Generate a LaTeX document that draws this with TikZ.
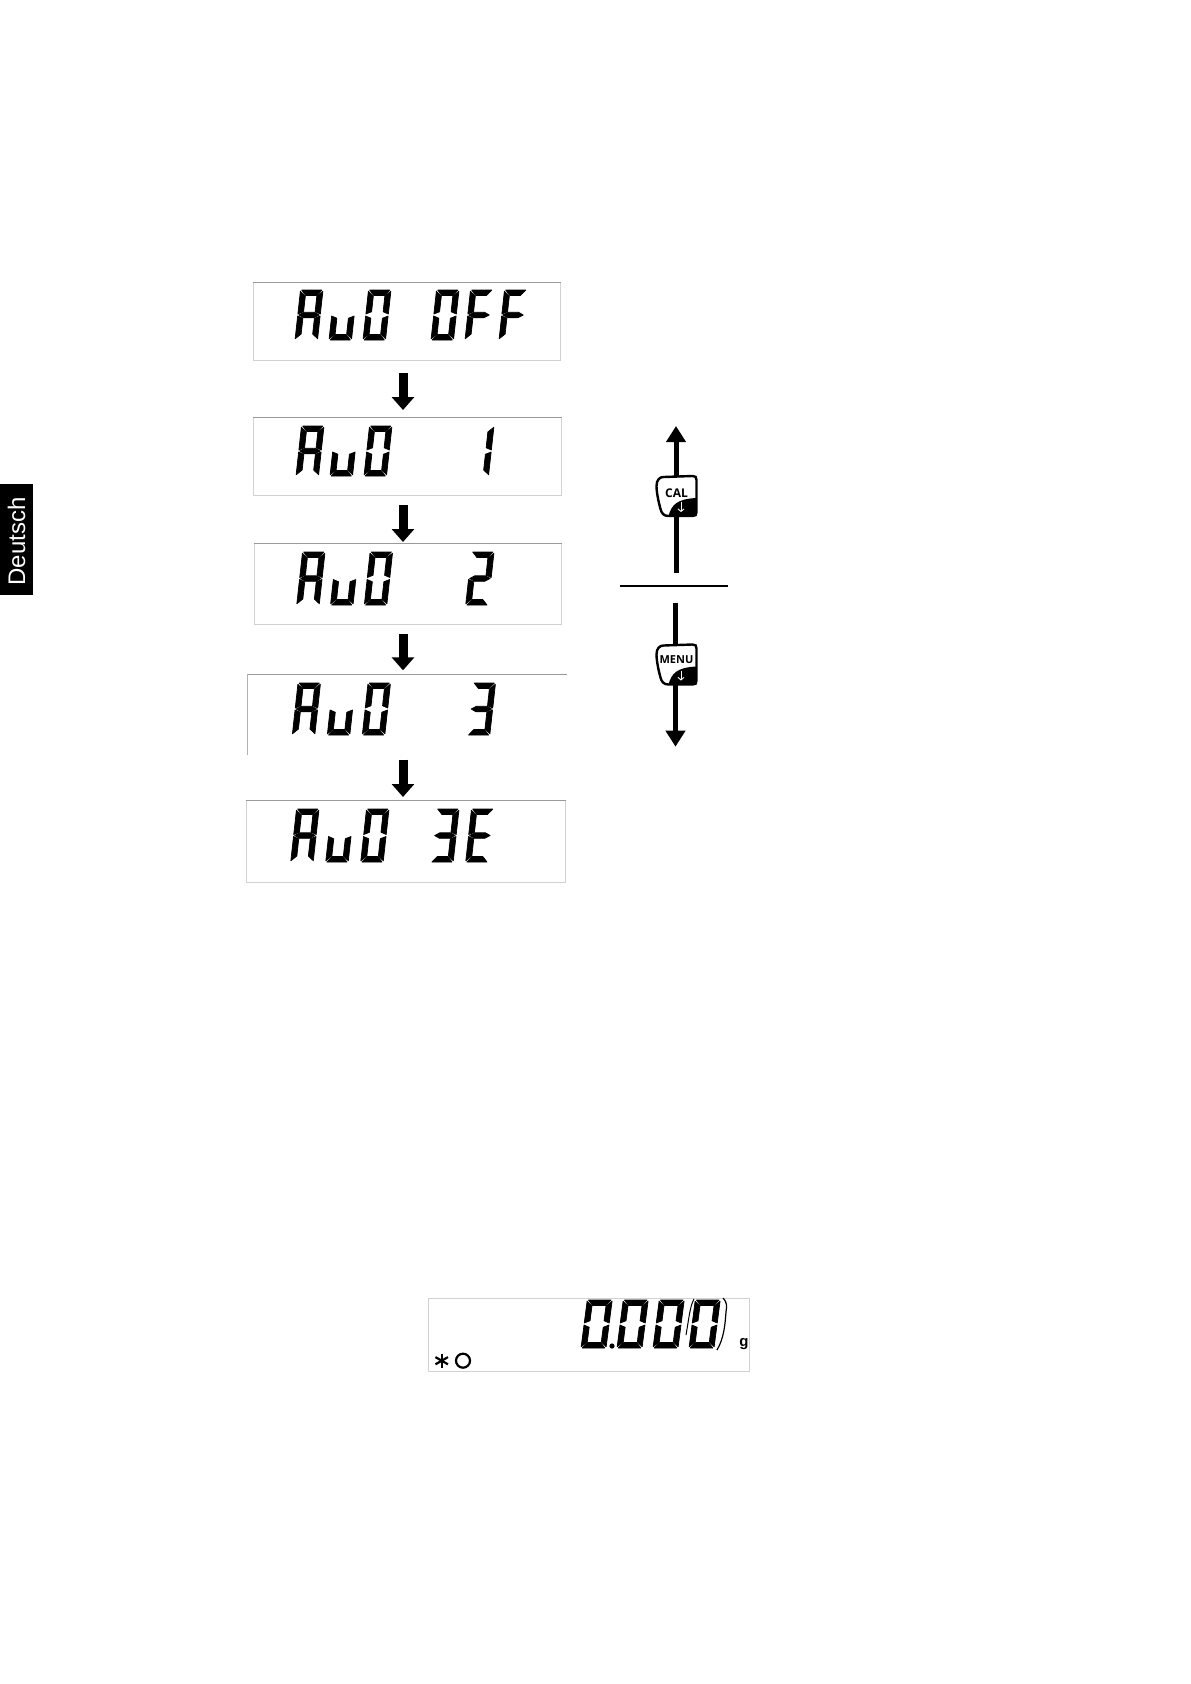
\documentclass[tikz,border=0pt]{standalone}
\usepackage{fontspec}
\setmainfont{Liberation Sans}
\setsansfont{Open Sans}
\usetikzlibrary{arrows.meta}
\usetikzlibrary{calc}

% segments of one lcd digit, origin at its lower left corner
\newcommand{\sega}{(1.2,-\digH) -- ({\digW-1.2},-\digH) -- ({\digW-\digT-.5},{-\digH+\digT}) -- ({\digT+.5},{-\digH+\digT}) -- cycle}
\newcommand{\segb}{(\digW,{-\digH+1.2}) -- (\digW,{-\digH/2-1}) -- ({\digW-\digT},{-\digH/2-\digT/2-.5}) -- ({\digW-\digT},{-\digH+\digT+.5}) -- cycle}
\newcommand{\segc}{(\digW,{-\digH/2+1}) -- (\digW,-1.2) -- ({\digW-\digT},{-\digT-.5}) -- ({\digW-\digT},{-\digH/2+\digT/2+.5}) -- cycle}
\newcommand{\segd}{(1.2,0) -- ({\digW-1.2},0) -- ({\digW-\digT-.5},-\digT) -- ({\digT+.5},-\digT) -- cycle}
\newcommand{\sege}{(0,{-\digH/2+1}) -- (0,-1.2) -- (\digT,{-\digT-.5}) -- (\digT,{-\digH/2+\digT/2+.5}) -- cycle}
\newcommand{\segf}{(0,{-\digH+1.2}) -- (0,{-\digH/2-1}) -- (\digT,{-\digH/2-\digT/2-.5}) -- (\digT,{-\digH+\digT+.5}) -- cycle}
\newcommand{\segg}{(1,{-\digH/2}) -- ({\digT+.5},{-\digH/2-\digT/2}) -- ({\digW-\digT-.5},{-\digH/2-\digT/2}) -- ({\digW-1},{-\digH/2}) -- ({\digW-\digT-.5},{-\digH/2+\digT/2}) -- ({\digT+.5},{-\digH/2+\digT/2}) -- cycle}

\newcommand{\lcdA}{a,b,c,e,f,g}
\newcommand{\lcdu}{c,d,e}
\newcommand{\lcdO}{a,b,c,d,e,f}
\newcommand{\lcdF}{a,e,f,g}
\newcommand{\lcdE}{a,d,e,f,g}
\newcommand{\lcdI}{b,c}
\newcommand{\lcdII}{a,b,d,e,g}
\newcommand{\lcdIII}{a,b,c,d,g}

% x, baseline, advance, height, slot/character list
\newcommand{\lcdline}[5]{
  \def\digH{#4}
  \foreach \slot/\chr in {#5} {
    \begin{scope}[shift={({#1+\slot*#3},#2)},xslant=\digS]
      \edef\seglist{\csname lcd\chr\endcsname}
      \foreach \s in \seglist {
        \fill[draw=black,line width=.7pt,line join=round] \csname seg\s\endcsname;
      }
    \end{scope}
  }
}

% name, x, y, label, label shift, label font size
\newcommand{\keycap}[6]{
  \node[keybox] (#1) at (#2,#3) {};
  \begin{scope}[shift={(#2,#3)}]
    \draw[black,line width=2.4pt,fill=white] (-13,-19) -- (16,-20)
      .. controls (19,-20) and (20,-19) .. (20,-16) -- (20,16)
      .. controls (20,19) and (19,20) .. (16,20) -- (-8,20)
      .. controls (-13,20) and (-15,17) .. (-16,13)
      .. controls (-18,6) and (-20,-4) .. (-20,-10)
      .. controls (-20,-16) and (-17,-19) .. (-13,-19) -- cycle;
    \fill[black] (-8,20) .. controls (-5,9) and (0,3) .. (20,2)
      -- (20,16) .. controls (20,19) and (19,20) .. (16,20) -- cycle;
    \draw[white,line width=.9pt,-{Straight Barb[length=2.5pt,width=6pt]}] (4.5,6) -- (4.5,16);
    \node[keylabel,font=\sffamily\bfseries\fontsize{#6}{#6}\selectfont] (#1 label) at (0,#5) {#4};
  \end{scope}
}

\tikzset{
  lcdbox/.style={rectangle,inner sep=0pt,draw=gray!35,line width=1pt},
  lcdtop/.style={draw=gray!80,line width=1pt},
  keybox/.style={rectangle,inner sep=0pt,minimum size=40pt},
  keylabel/.style={inner sep=0pt,text=black},
  flowarrow/.style={line width=9pt,-{Triangle[width=22pt,length=13pt]}},
  keyline/.style={line width=5pt},
  keyarrow/.style={keyline,-{Triangle[width=19pt,length=16pt]}},
}

\begin{document}
\begin{tikzpicture}[x=1pt,y=-1pt]
  \useasboundingbox (0,0) rectangle (1191,1684);
  \def\digW{22.5}
  \def\digT{5.5}
  \def\digS{0.11}

  \node[fill=black,text=white,rotate=90,inner sep=0pt,minimum width=111pt,minimum height=33pt,
    font=\fontsize{24}{24}\selectfont] (tabDeutsch) at (16.5,539.5) {\raisebox{-1pt}{Deutsch}\hspace*{4pt}};

  \node[lcdbox,minimum width=307pt,minimum height=78pt] (stepOff) at (406.5,321.5) {};
  \node[lcdbox,minimum width=308pt,minimum height=78pt] (stepOne) at (407.5,456.5) {};
  \node[lcdbox,minimum width=307pt,minimum height=81pt] (stepTwo) at (407.5,584) {};
  \node[inner sep=0pt,minimum width=319pt,minimum height=80pt] (stepThree) at (407.5,714.5) {};
  \node[lcdbox,minimum width=319pt,minimum height=82pt] (stepThreeE) at (405.5,841.5) {};

  \foreach \b in {stepOff,stepOne,stepTwo,stepThree,stepThreeE} {
    \draw[lcdtop] (\b.north west) -- (\b.north east);
  }
  \draw[draw=gray!60,line width=1pt] (stepThree.north west) -- (stepThree.south west);

  \lcdline{295}{340}{34}{50}{0/A,1/u,2/O,4/O,5/F,6/F}
  \lcdline{296}{476}{34}{50}{0/A,1/u,2/O,5/I}
  \lcdline{296.7}{605}{33.8}{53}{0/A,1/u,2/O,5/II}
  \lcdline{292.3}{735}{35}{52}{0/A,1/u,2/O,5/III}
  \lcdline{290.7}{862}{35}{53}{0/A,1/u,2/O,4/III,5/E}

  \coordinate (flowAxis) at (403,0);
  \foreach \a/\b/\s/\e in {stepOff/stepOne/12/7,stepOne/stepTwo/9/1,stepTwo/stepThree/9/4,stepThree/stepThreeE/5/3} {
    \draw[flowarrow,shorten <=\s pt,shorten >=\e pt] (\a.south -| flowAxis) -- (\b.north -| flowAxis);
  }

  \keycap{keyCal}{676.5}{496}{CAL}{-3}{12}
  \keycap{keyMenu}{676.5}{664.5}{MENU}{-4.5}{11}

  \coordinate (calBase) at (676,573);
  \coordinate (calTip) at (676,426);
  \coordinate (menuBase) at (675.5,602.7);
  \coordinate (menuTip) at (675.5,746.7);
  \coordinate (sepLeft) at (620,585.7);
  \coordinate (sepRight) at (728,585.7);

  \draw[keyline] (calBase) -- (keyCal.south -| calBase);
  \draw[keyarrow] (keyCal.north -| calTip) -- (calTip);
  \draw[black,line width=2.4pt] (sepLeft) -- (sepRight);
  \draw[keyline] (menuBase) -- (keyMenu.north -| menuBase);
  \draw[keyarrow] (keyMenu.south -| menuTip) -- (menuTip);

  \node[lcdbox,minimum width=321pt,minimum height=73pt] (readout) at (588.5,1334.5) {};
  \def\digW{25}
  \def\digT{5.5}
  \def\digS{0.13}
  \lcdline{581}{1348}{36}{48}{0/O,1/O,2/O,3/O}
  \fill (612,1346) circle (2.6);
  \draw[line width=1pt] (694,1299) .. controls (690,1306) and (689,1318) .. (686,1335);
  \draw[line width=1.2pt] (723,1298) .. controls (727,1302) and (727,1306) .. (726,1312)
    .. controls (725,1325) and (724,1338) .. (717,1350);

  \node[inner sep=0pt,font=\bfseries\fontsize{15}{15}\selectfont] (unitG) at (744,1344) {g};

  \node[circle,inner sep=0pt,minimum size=14pt] (symStar) at (441.7,1360.7) {};
  \foreach \p in {90,150,210} {
    \draw[line width=2.2pt] (symStar.\p) -- (symStar.\p+180);
  }
  \node[circle,draw=black,line width=2.2pt,inner sep=0pt,minimum size=14pt] (symRing) at (463,1360.7) {};
\end{tikzpicture}
\end{document}
